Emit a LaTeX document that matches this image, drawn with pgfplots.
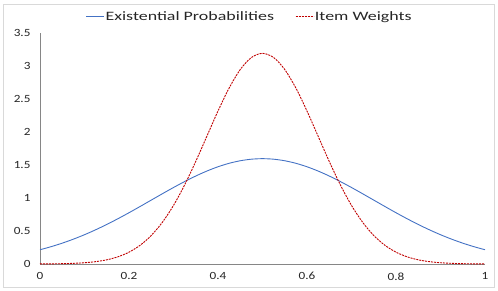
\documentclass[border=0pt]{standalone}
\usepackage{fontspec}
\setmainfont{Carlito}
\newfontfamily\tickfont[FakeStretch=1.2]{Carlito}
\newfontfamily\legfont[FakeStretch=1.4]{Carlito}
\usepackage{pgfplots}
\pgfplotsset{compat=1.18}
\definecolor{exblue}{HTML}{4472C4}
\definecolor{wred}{HTML}{C00000}
\definecolor{axgray}{HTML}{868686}
\definecolor{bordergray}{HTML}{D9D9D9}
\begin{document}
\begin{tikzpicture}
\begin{axis}[
  scale only axis,
  width=445bp, height=231bp,
  xmin=0, xmax=1, ymin=0, ymax=3.5,
  axis x line*=bottom, axis y line*=left,
  axis line style={axgray, line width=0.6pt},
  x axis line style={-}, y axis line style={-},
  xtick={0,0.2,0.4,0.6,0.8,1},
  xticklabels={0,0.2,0.4,0.6,0.8,1},
  ytick={0,0.5,1,1.5,2,2.5,3,3.5},
  yticklabels={0,0.5,1,1.5,2,2.5,3,3.5},
  major tick length=0pt,
  tick label style={font=\fontsize{11bp}{13bp}\tickfont, text=black!85},
  xticklabel style={yshift=-5bp},
  yticklabel style={xshift=-6bp},
  legend style={at={(0.47,1.0)}, anchor=south, yshift=10bp, draw=none, fill=none,
    legend columns=2, font=\fontsize{12.8bp}{15bp}\legfont, text=black!85,
    inner sep=0pt, nodes={inner sep=1bp},
    /tikz/every even column/.append style={column sep=20bp}},
  legend image code/.code={\draw[#1] (0bp,0bp) -- (18bp,0bp);},
  clip=false,
]
\addplot[exblue, line width=0.9pt, smooth] coordinates {
(0,0.2160)(0.025,0.2625)(0.05,0.3158)(0.075,0.3762)(0.1,0.4437)(0.125,0.5181)(0.15,0.5989)(0.175,0.6855)(0.2,0.7768)(0.225,0.8714)(0.25,0.9679)(0.275,1.0644)(0.3,1.1588)(0.325,1.2490)(0.35,1.3329)(0.375,1.4083)(0.4,1.4731)(0.425,1.5256)(0.45,1.5642)(0.475,1.5878)(0.5,1.5958)
(0.525,1.5878)(0.55,1.5642)(0.575,1.5256)(0.6,1.4731)(0.625,1.4083)(0.65,1.3329)(0.675,1.2490)(0.7,1.1588)(0.725,1.0644)(0.75,0.9679)(0.775,0.8714)(0.8,0.7768)(0.825,0.6855)(0.85,0.5989)(0.875,0.5181)(0.9,0.4437)(0.925,0.3762)(0.95,0.3158)(0.975,0.2625)(1,0.2160)
};
\addlegendentry{Existential Probabilities}
\addplot[wred, line width=0.9pt, dash pattern=on 2bp off 1bp, smooth] coordinates {
(0,0.0011)(0.025,0.0023)(0.05,0.0049)(0.075,0.0099)(0.1,0.0191)(0.125,0.0355)(0.15,0.0633)(0.175,0.1087)(0.2,0.1791)(0.225,0.2838)(0.25,0.4319)(0.275,0.6316)(0.3,0.8874)(0.325,1.1978)(0.35,1.5535)(0.375,1.9358)(0.4,2.3175)(0.425,2.6658)(0.45,2.9461)(0.475,3.1283)(0.5,3.1915)
(0.525,3.1283)(0.55,2.9461)(0.575,2.6658)(0.6,2.3175)(0.625,1.9358)(0.65,1.5535)(0.675,1.1978)(0.7,0.8874)(0.725,0.6316)(0.75,0.4319)(0.775,0.2838)(0.8,0.1791)(0.825,0.1087)(0.85,0.0633)(0.875,0.0355)(0.9,0.0191)(0.925,0.0099)(0.95,0.0049)(0.975,0.0023)(1,0.0011)
};
\addlegendentry{Item Weights}
\end{axis}
\draw[bordergray, line width=0.8pt] ([xshift=-37bp,yshift=-23bp]current axis.south west) rectangle ([xshift=9bp,yshift=29bp]current axis.north east);
\useasboundingbox ([xshift=-40bp,yshift=-27bp]current axis.south west) rectangle ([xshift=13bp,yshift=33bp]current axis.north east);
\end{tikzpicture}
\end{document}
